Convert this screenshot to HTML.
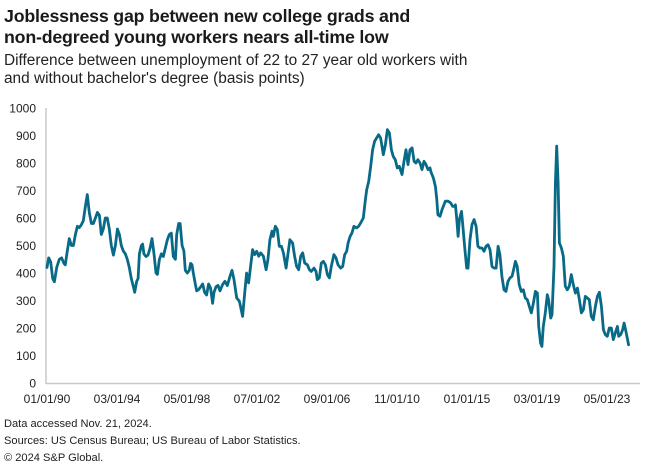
<!DOCTYPE html>
<html><head><meta charset="utf-8"><style>
body{margin:0;background:#fff;font-family:"Liberation Sans",sans-serif;color:#1a1a1a}
.t{position:absolute;left:4px;top:6px;font-size:17.8px;font-weight:bold;line-height:21px;letter-spacing:-0.2px}
.s{position:absolute;left:4px;top:52px;font-size:15.4px;line-height:18px;color:#222}
.f{position:absolute;left:4px;font-size:11.1px;color:#222}
</style></head><body>
<div class="t">Joblessness gap between new college grads and<br>non-degreed young workers nears all-time low</div>
<div class="s">Difference between unemployment of 22 to 27 year old workers with<br>and without bachelor's degree (basis points)</div>
<svg id="c" width="660" height="476" style="position:absolute;left:0;top:0"></svg>
<div class="f" style="top:418px">Data accessed Nov. 21, 2024.</div>
<div class="f" style="top:435px">Sources: US Census Bureau; US Bureau of Labor Statistics.</div>
<div class="f" style="top:452px">© 2024 S&amp;P Global.</div>
<script>
const years=[1990.0,1990.10,1990.22,1990.34,1990.44,1990.58,1990.73,1990.87,1991.01,1991.09,1991.21,1991.33,1991.45,1991.57,1991.69,1991.81,1991.92,1992.04,1992.16,1992.28,1992.40,1992.52,1992.64,1992.76,1992.88,1993.00,1993.12,1993.23,1993.35,1993.47,1993.59,1993.71,1993.83,1993.95,1994.07,1994.19,1994.31,1994.42,1994.54,1994.66,1994.78,1994.90,1995.02,1995.14,1995.22,1995.34,1995.42,1995.50,1995.62,1995.69,1995.77,1995.89,1996.01,1996.13,1996.25,1996.37,1996.49,1996.57,1996.69,1996.81,1996.92,1997.04,1997.16,1997.28,1997.40,1997.52,1997.64,1997.72,1997.84,1997.92,1998.04,1998.15,1998.23,1998.35,1998.47,1998.55,1998.63,1998.71,1998.83,1998.91,1999.03,1999.15,1999.27,1999.38,1999.50,1999.62,1999.74,1999.86,1999.94,2000.06,2000.18,2000.30,
2000.45,2000.59,2000.73,2000.89,2001.01,2001.13,2001.29,2001.45,2001.52,2001.64,2001.77,2001.88,2002.00,2002.12,2002.24,2002.36,2002.48,2002.60,2002.72,2002.88,2003.04,2003.15,2003.27,2003.39,2003.47,2003.59,2003.71,2003.83,2003.95,2004.07,2004.23,2004.35,2004.46,2004.62,2004.74,2004.86,2004.98,2005.10,2005.22,2005.34,2005.50,2005.62,2005.73,2005.89,2006.01,2006.09,2006.21,2006.33,2006.45,2006.57,2006.69,2006.81,2006.92,2007.08,2007.20,2007.32,2007.48,2007.60,2007.72,2007.84,2007.92,2008.04,2008.15,2008.27,2008.43,2008.55,2008.67,2008.83,2008.95,2009.03,2009.15,2009.27,2009.38,2009.50,2009.62,2009.74,2009.86,2009.94,2010.02,2010.14,2010.26,2010.38,2010.50,2010.61,2010.73,2010.85,2010.97,2011.13,2011.25,2011.37,2011.49,2011.61,2011.73,2011.85,2011.96,2012.08,2012.20,2012.32,2012.44,2012.56,2012.68,2012.80,
2012.84,2013.00,2013.12,2013.20,2013.27,2013.39,2013.51,2013.71,2013.87,2014.03,2014.15,2014.27,2014.31,2014.39,2014.47,2014.55,2014.67,2014.74,2014.86,2014.98,2015.06,2015.18,2015.30,2015.42,2015.54,2015.65,2015.77,2015.89,2016.01,2016.13,2016.25,2016.37,2016.49,2016.61,2016.73,2016.85,2016.96,2017.08,2017.20,2017.32,2017.44,2017.56,2017.68,2017.80,2017.88,2017.99,2018.11,2018.23,2018.35,2018.47,2018.59,2018.71,2018.83,2018.95,2019.07,2019.19,2019.27,2019.38,2019.46,2019.54,2019.66,2019.78,2019.86,2019.98,2020.06,2020.18,2020.26,2020.34,2020.42,2020.50,2020.62,2020.73,2020.85,2020.97,2021.09,2021.21,2021.33,2021.45,2021.57,2021.69,2021.81,2021.93,2022.04,2022.16,2022.28,2022.40,2022.52,2022.64,2022.76,2022.88,2023.00,2023.12,2023.23,2023.35,2023.47,2023.59,2023.71,2023.83,2023.95,2024.03,2024.15,2024.27,2024.35,2024.46,2024.62];
const gap=[420,455,440,380,368,420,450,455,435,430,480,525,500,500,540,570,565,575,590,640,685,620,580,580,600,620,610,540,560,600,600,560,500,465,500,560,540,500,480,470,450,420,380,350,330,370,380,470,500,505,470,460,465,490,525,470,400,395,450,470,460,490,520,540,545,460,450,540,580,580,500,480,410,400,410,435,430,400,360,335,340,350,360,330,320,360,345,290,330,350,355,335,
358,370,354,388,410,376,309,297,279,242,327,400,364,424,485,467,479,461,473,461,412,448,521,552,533,570,558,497,497,473,418,473,521,509,461,424,412,461,473,436,430,412,406,418,406,376,382,436,442,430,394,382,424,467,455,430,418,424,467,479,509,533,545,570,564,570,582,600,667,703,733,788,848,879,891,903,891,861,830,867,921,909,848,824,812,782,788,758,806,848,794,848,855,806,800,812,800,776,806,794,776,782,
770,745,715,667,612,606,630,661,661,655,642,642,648,594,533,594,624,582,497,418,418,521,576,594,570,497,491,491,479,497,503,485,424,418,418,497,467,388,339,333,370,382,388,418,442,424,358,333,339,309,303,279,255,291,333,327,206,145,133,206,255,321,303,236,248,424,727,861,727,509,491,461,352,339,352,394,358,327,345,303,255,267,315,309,303,242,230,279,315,330,279,194,176,170,200,200,158,182,206,170,176,194,218,188,139];
const yTicks=[0,100,200,300,400,500,600,700,800,900,1000];
const xTickYears=[1990.0,1994.167,1998.333,2002.5,2006.667,2010.833,2015.0,2019.167,2023.333];
const xTickLabels=["01/01/90","03/01/94","05/01/98","07/01/02","09/01/06","11/01/10","01/01/15","03/01/19","05/01/23"];
const ns="http://www.w3.org/2000/svg",svg=document.getElementById('c');
const X=y=>47+(y-1990)*16.8, Y=v=>383-v*0.275;
function mk(t,a){const e=document.createElementNS(ns,t);for(const k in a)e.setAttribute(k,a[k]);svg.appendChild(e);return e;}
let e=mk('line',{x1:46,y1:108,x2:46,y2:384,stroke:'#c8c8c8','stroke-width':1.5});


e=mk('line',{x1:46,y1:383.5,x2:640,y2:383.5,stroke:'#c8c8c8','stroke-width':1.5});


yTicks.forEach(v=>{const t=mk('text',{x:36,y:Y(v)+4.5,'text-anchor':'end','font-size':12,fill:'#222','font-family':'Liberation Sans'});t.textContent=v;

});
xTickYears.forEach((yr,i)=>{const t=mk('text',{x:X(yr),y:403,'text-anchor':'middle','font-size':12,fill:'#222','font-family':'Liberation Sans'});t.textContent=xTickLabels[i];

});
const p=mk('path',{d:years.map((y,i)=>(i?'L':'M')+X(y).toFixed(1)+','+Y(gap[i]).toFixed(1)).join(''),fill:'none',stroke:'#086a87','stroke-width':2.8,'stroke-linejoin':'round','stroke-linecap':'round'});


</script>
</body></html>
